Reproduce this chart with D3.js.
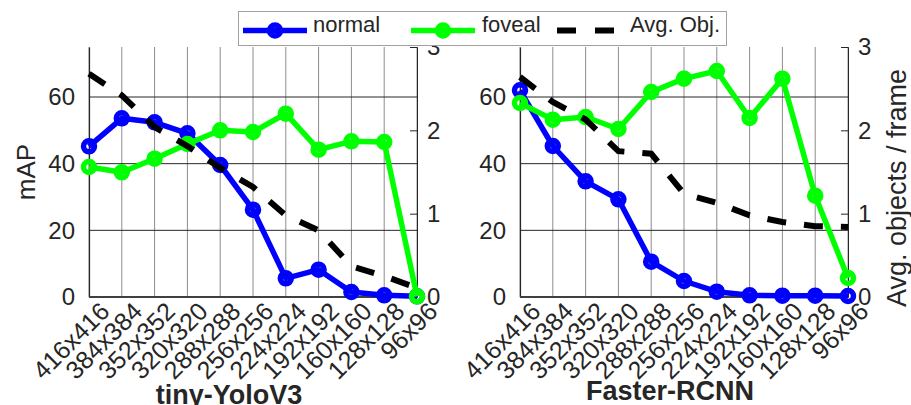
<!DOCTYPE html>
<html>
<head>
<meta charset="utf-8">
<script src="https://cdn.jsdelivr.net/npm/d3@7"></script>
<style>
    body { margin: 0; background: #fff; }
    text { font-family: "Liberation Sans", Arial, sans-serif; fill: #262626; }
</style>
</head>
<body>
<div id="chart"></div>
<script>
// resolutions on the x axis
var categories = ["416x416", "384x384", "352x352", "320x320", "288x288", "256x256",
    "224x224", "192x192", "160x160", "128x128", "96x96"];

// tiny-YoloV3
var yoloNormal = [45.2, 53.6, 52.4, 49.1, 39.6, 26.2, 5.6, 8.2, 1.5, 0.5, 0.2];
var yoloFoveal = [39.0, 37.4, 41.5, 45.9, 50.0, 49.5, 55.0, 44.2, 46.7, 46.5, 0.2];
var yoloObj = [2.68, 2.42, 2.04, 1.81, 1.55, 1.32, 0.98, 0.80, 0.37, 0.25, 0.11];

// Faster-RCNN
var rcnnNormal = [62.0, 45.3, 34.7, 29.3, 10.6, 4.8, 1.6, 0.5, 0.4, 0.4, 0.3];
var rcnnFoveal = [58.2, 53.2, 54.0, 50.4, 61.5, 65.5, 67.8, 53.7, 65.5, 30.4, 5.7];
var rcnnObj = [2.64, 2.34, 2.13, 1.75, 1.72, 1.24, 1.13, 0.98, 0.90, 0.85, 0.84];

var mapTicks = [0, 20, 40, 60];
var objTicks = [0, 1, 2, 3];

var svgWidth = 911;
var svgHeight = 405;

var svg = d3.select("#chart")
    .append("svg")
    .attr("width", svgWidth)
    .attr("height", svgHeight);

// plot area edges (shared by both panels)
var plotTop = 47, plotBottom = 297;

var blue = "#0000ff", green = "#00ff00";

function drawPanel(left, right, normal, foveal, obj, title, titleX, titleY, yLabel, y2Label) {
    var x = d3.scalePoint().domain(categories).range([left, right]);
    var y = d3.scaleLinear().domain([0, 75]).range([plotBottom, plotTop]);
    var y2 = d3.scaleLinear().domain([0, 3]).range([plotBottom, plotTop]);

    var g = svg.append("g");

    // vertical grid
    g.selectAll(".vgrid")
        .data(categories)
        .enter()
        .append("line")
        .attr("x1", d => x(d)).attr("x2", d => x(d))
        .attr("y1", plotTop).attr("y2", plotBottom)
        .attr("stroke", "#8c8c8c")
        .attr("stroke-width", 1);

    // horizontal grid from the mAP ticks
    g.selectAll(".hgrid")
        .data(mapTicks.slice(1))
        .enter()
        .append("line")
        .attr("x1", left).attr("x2", right)
        .attr("y1", d => y(d)).attr("y2", d => y(d))
        .attr("stroke", "#262626")
        .attr("stroke-width", 1);

    // left axis
    var leftAxis = d3.axisLeft(y).tickValues(mapTicks).tickSize(0).tickPadding(14);
    var la = g.append("g")
        .attr("transform", `translate(${left}, 0)`)
        .call(leftAxis);
    la.select(".domain").attr("stroke", "#262626").attr("stroke-width", 1.2);
    la.selectAll("text").style("font-size", "24px").attr("fill", "#262626");

    // right axis, ticks pointing inward
    var rightAxis = d3.axisRight(y2)
        .tickValues(objTicks)
        .tickFormat(d3.format("d"))
        .tickSize(-7)
        .tickPadding(10);
    var ra = g.append("g")
        .attr("transform", `translate(${right}, 0)`)
        .call(rightAxis);
    ra.select(".domain").attr("stroke", "#262626").attr("stroke-width", 1);
    ra.selectAll(".tick line").attr("stroke", "#262626");
    ra.selectAll("text").style("font-size", "24px").attr("fill", "#262626");

    // bottom axis line
    g.append("line")
        .attr("x1", left).attr("x2", right)
        .attr("y1", plotBottom).attr("y2", plotBottom)
        .attr("stroke", "#404040")
        .attr("stroke-width", 2);

    // rotated tick labels
    g.selectAll(".xlabel")
        .data(categories)
        .enter()
        .append("text")
        .attr("transform", d => `translate(${x(d) + 22}, 313) rotate(-45)`)
        .attr("text-anchor", "end")
        .style("font-size", "25px")
        .text(d => d);

    // series lines
    var line = d3.line()
        .x((d, i) => x(categories[i]))
        .y(d => y(d));

    [[normal, blue], [foveal, green]].forEach(function (s) {
        g.append("path")
            .datum(s[0])
            .attr("d", line)
            .attr("fill", "none")
            .attr("stroke", s[1])
            .attr("stroke-width", 5.5)
            .attr("stroke-linejoin", "round");

        g.selectAll(null)
            .data(s[0])
            .enter()
            .append("circle")
            .attr("cx", (d, i) => x(categories[i]))
            .attr("cy", d => y(d))
            .attr("r", 5.5)
            .attr("fill", "none")
            .attr("stroke", s[1])
            .attr("stroke-width", 5.5);
    });

    var objLine = d3.line()
        .x((d, i) => x(categories[i]))
        .y(d => y2(d));

    g.append("path")
        .datum(obj)
        .attr("d", objLine)
        .attr("fill", "none")
        .attr("stroke", "#000")
        .attr("stroke-width", 6)
        .attr("stroke-dasharray", "19,18");

    // panel title
    g.append("text")
        .attr("x", titleX)
        .attr("y", titleY)
        .attr("text-anchor", "middle")
        .style("font-size", "27px")
        .style("font-weight", "bold")
        .attr("fill", "#000")
        .text(title);

    if (yLabel) {
        g.append("text")
            .attr("transform", `translate(35, ${(plotTop + plotBottom) / 2}) rotate(-90)`)
            .attr("text-anchor", "middle")
            .style("font-size", "26px")
            .text(yLabel);
    }
    if (y2Label) {
        g.append("text")
            .attr("transform", `translate(906, 188) rotate(-90)`)
            .attr("text-anchor", "middle")
            .style("font-size", "27px")
            .text(y2Label);
    }
}

drawPanel(89, 417, yoloNormal, yoloFoveal, yoloObj, "tiny-YoloV3", 229, 404, "mAP", null);
drawPanel(520, 848, rcnnNormal, rcnnFoveal, rcnnObj, "Faster-RCNN", 670, 400, null, "Avg. objects / frame");

// legend
var legend = svg.append("g");

legend.append("rect")
    .attr("x", 238.5).attr("y", 11.5)
    .attr("width", 488).attr("height", 34)
    .attr("fill", "#fff")
    .attr("stroke", "#a0a0a0")
    .attr("stroke-width", 1);

var legendItems = [
    { name: "normal", color: blue, x: 243, textX: 313 },
    { name: "foveal", color: green, x: 411, textX: 482 }
];

legendItems.forEach(function (d) {
    legend.append("line")
        .attr("x1", d.x).attr("x2", d.x + 64)
        .attr("y1", 30.5).attr("y2", 30.5)
        .attr("stroke", d.color)
        .attr("stroke-width", 5.5);
    legend.append("circle")
        .attr("cx", d.x + 32).attr("cy", 30.5)
        .attr("r", 5.5)
        .attr("fill", "none")
        .attr("stroke", d.color)
        .attr("stroke-width", 5.5);
    legend.append("text")
        .attr("x", d.textX).attr("y", 32)
        .style("font-size", "22px")
        .attr("fill", "#000")
        .text(d.name);
});

legend.append("line")
    .attr("x1", 557).attr("x2", 615)
    .attr("y1", 30.5).attr("y2", 30.5)
    .attr("stroke", "#000")
    .attr("stroke-width", 6)
    .attr("stroke-dasharray", "19,19");

legend.append("text")
    .attr("x", 630).attr("y", 32)
    .style("font-size", "22px")
    .attr("fill", "#000")
    .text("Avg. Obj.");
</script>
</body>
</html>
